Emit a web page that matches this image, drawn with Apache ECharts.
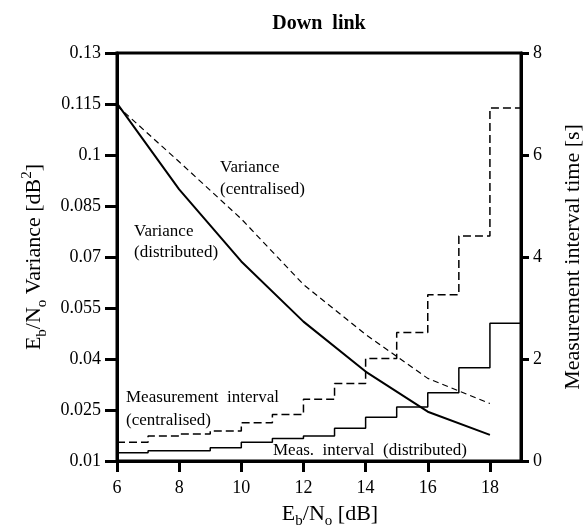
<html>
    <head>
        <meta charset="utf-8">
        <script src="https://cdn.jsdelivr.net/npm/echarts@6/dist/echarts.min.js"></script>
        <style>
            html, body { margin: 0; padding: 0; background: #fff; }
            #main { width: 585px; height: 531px; }
        </style>
    </head>
    <body>
        <div id="main"></div>

        <script>

        // Eb/No points where the variance was evaluated
        var snr = [6, 8, 10, 12, 14, 16, 18];
        var varDistributed = [0.1152, 0.0899, 0.0687, 0.0510, 0.0363, 0.0245, 0.0177];
        var varCentralised = [0.1145, 0.0980, 0.0812, 0.0619, 0.0472, 0.0343, 0.0269];

        // measurement interval steps (value holds from x to x+1), last point closes the step at 19
        var stepX = [6, 7, 8, 9, 10, 11, 12, 13, 14, 15, 16, 17, 18, 19];
        var measCentralised = [0.37, 0.49, 0.53, 0.59, 0.75, 0.91, 1.21, 1.52, 2.01, 2.52, 3.26, 4.41, 6.92, 6.92];
        var measDistributed = [0.16, 0.20, 0.20, 0.26, 0.37, 0.44, 0.49, 0.64, 0.86, 1.06, 1.34, 1.83, 2.70, 2.70];

        var xTicks = [6, 8, 10, 12, 14, 16, 18];
        var leftTicks = [0.01, 0.025, 0.04, 0.055, 0.07, 0.085, 0.1, 0.115, 0.13];

        var font = 'Liberation Serif';

        function pairs(xs, ys) {
            return xs.map(function (x, i) { return [x, ys[i]]; });
        }

        var nameRich = {
            n: { fontFamily: font, fontSize: 22, lineHeight: 30, verticalAlign: 'middle', color: '#000' },
            sub: { fontFamily: font, fontSize: 15, lineHeight: 30, verticalAlign: 'bottom', color: '#000' },
            sup: { fontFamily: font, fontSize: 15, lineHeight: 30, verticalAlign: 'top', color: '#000' }
        };

        var axisLine = { show: true, lineStyle: { color: '#000', width: 3 } };
        var annoFont = '17px "Liberation Serif"';

        var option = {
            animation: false,
            backgroundColor: '#fff',
            title: {
                text: 'Down  link',
                left: 314,
                top: 9,
                textAlign: 'center',
                textStyle: { fontFamily: font, fontWeight: 'bold', fontSize: 20, color: '#000' }
            },
            grid: {
                left: 117,
                right: 64,
                top: 53,
                bottom: 70,
                outerBoundsMode: 'none',
                show: true,
                borderColor: '#000',
                borderWidth: 3,
                backgroundColor: 'transparent'
            },
            xAxis: {
                type: 'value',
                min: 6,
                max: 19,
                name: '{n|E}{sub|b}{n|/N}{sub|o}{n| [dB]}',
                nameLocation: 'middle',
                nameGap: 38,
                nameTextStyle: { rich: nameRich, padding: [0, 0, 0, 22] },
                axisLine: axisLine,
                axisTick: { show: true, length: 11, customValues: xTicks, lineStyle: { color: '#000', width: 3 } },
                axisLabel: {
                    customValues: xTicks,
                    margin: 18,
                    fontFamily: font,
                    fontSize: 18,
                    color: '#000'
                },
                splitLine: { show: false }
            },
            yAxis: [
                {
                    type: 'value',
                    min: 0.01,
                    max: 0.13,
                    name: '{n|E}{sub|b}{n|/N}{sub|o}{n| Variance [dB}{sup|2}{n|]}',
                    nameLocation: 'middle',
                    nameGap: 54,
                    nameTextStyle: { rich: nameRich },
                    axisLine: axisLine,
                    axisTick: { show: true, length: 12, customValues: leftTicks, lineStyle: { color: '#000', width: 3 } },
                    axisLabel: {
                        customValues: leftTicks,
                        margin: 16,
                        fontFamily: font,
                        fontSize: 18,
                        color: '#000',
                        formatter: function (v) { return String(v); }
                    },
                    splitLine: { show: false }
                },
                {
                    type: 'value',
                    min: 0,
                    max: 8,
                    interval: 2,
                    position: 'right',
                    name: '{n|Measurement interval time [s]}',
                    nameLocation: 'middle',
                    nameGap: 37,
                    nameTextStyle: { rich: nameRich },
                    axisLine: axisLine,
                    axisTick: { show: true, length: 8, lineStyle: { color: '#000', width: 3 } },
                    axisLabel: {
                        margin: 12,
                        fontFamily: font,
                        fontSize: 18,
                        color: '#000'
                    },
                    splitLine: { show: false }
                }
            ],
            series: [
                {
                    name: 'Variance (distributed)',
                    type: 'line',
                    yAxisIndex: 0,
                    symbol: 'none',
                    data: pairs(snr, varDistributed),
                    lineStyle: { color: '#000', width: 2 }
                },
                {
                    name: 'Variance (centralised)',
                    type: 'line',
                    yAxisIndex: 0,
                    symbol: 'none',
                    data: pairs(snr, varCentralised),
                    lineStyle: { color: '#000', width: 1.2, type: [6, 4] }
                },
                {
                    name: 'Measurement interval (centralised)',
                    type: 'line',
                    yAxisIndex: 1,
                    step: 'end',
                    symbol: 'none',
                    data: pairs(stepX, measCentralised),
                    lineStyle: { color: '#000', width: 1.5, type: [8, 4] }
                },
                {
                    name: 'Meas. interval (distributed)',
                    type: 'line',
                    yAxisIndex: 1,
                    step: 'end',
                    symbol: 'none',
                    data: pairs(stepX, measDistributed),
                    lineStyle: { color: '#000', width: 1.5 }
                }
            ],
            graphic: [
                {
                    type: 'text', left: 220, top: 157,
                    style: { text: 'Variance\n(centralised)', font: annoFont, lineHeight: 22, fill: '#000' }
                },
                {
                    type: 'text', left: 134, top: 221,
                    style: { text: 'Variance\n(distributed)', font: annoFont, lineHeight: 21, fill: '#000' }
                },
                {
                    type: 'text', left: 126, top: 386,
                    style: { text: 'Measurement  interval\n(centralised)', font: annoFont, lineHeight: 23, fill: '#000' }
                },
                {
                    type: 'text', left: 273, top: 442,
                    style: { text: 'Meas.  interval  (distributed)', font: annoFont, fill: '#000' }
                }
            ]
        };

        var myChart = echarts.init(document.getElementById('main'));
        myChart.setOption(option);

        </script>
    </body>
</html>
